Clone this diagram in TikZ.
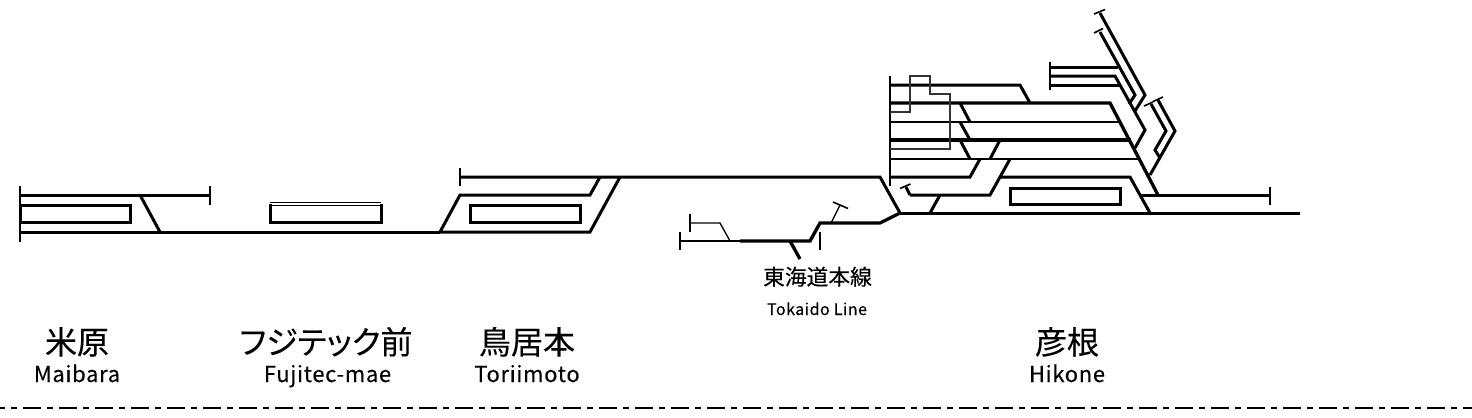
\documentclass[tikz,border=0pt]{standalone}
\usepackage{fontspec}
\setmainfont{Noto Sans CJK JP}[FakeBold=0.25]
\newfontfamily\jppal{Noto Sans CJK JP}[FakeBold=0.25,RawFeature={+palt}]
\newfontfamily\latn{Noto Sans CJK JP}[FakeBold=0.2,LetterSpace=3]
\tikzset{
  x=0.75pt,y=-0.75pt,
  trk/.style={line width=2.25pt,line join=miter,line cap=butt},
  trkh/.style={line width=2.5pt,line join=miter,line cap=butt},
  trkm/.style={line width=2pt,line join=miter,line cap=butt},
  thn/.style={line width=1pt,line join=miter,line cap=butt},
  tck/.style={line width=1.2pt,line cap=butt},
  ctl/.style={line width=1pt,draw=black!80},
  jp/.style={inner sep=0pt,anchor=base,font=\fontsize{24pt}{26pt}\selectfont},
  en/.style={inner sep=0pt,anchor=base,font=\latn\fontsize{16.5pt}{18pt}\selectfont},
  jps/.style={inner sep=0pt,anchor=base,font=\fontsize{16.3pt}{18pt}\selectfont},
  ens/.style={inner sep=0pt,anchor=base,font=\latn\fontsize{12pt}{13pt}\selectfont},
}
\begin{document}
\begin{tikzpicture}
\useasboundingbox (0,0) rectangle (1472,418);
% Maibara
\draw[tck] (20,186)--(20,242);
\draw[trk] (20,195)--(210,195);
\draw[tck] (210,186)--(210,205);
\draw[trk] (20,205) rectangle (130,222);
\draw[trk] (140,195)--(160,232);
\draw[trk] (20,232)--(440,232);
% Fujitec
\draw[thn] (270,202.5)--(381,202.5);
\draw[line width=1.3pt] (270,205.5)--(381,205.5);
\draw[trk] (270,204)--(270,222)--(381,222)--(381,204);
% Toriimoto
\draw[tck] (460,168)--(460,186);
\draw[trk] (460,177)--(880,177)--(900,213);
\draw[trk] (600,177)--(590,195)--(460,195)--(440,232);
\draw[trk] (620,177)--(590,232)--(440,232);
\draw[trk] (470,205) rectangle (580,222);
% Tokaido
\draw[tck] (680,232)--(680,250);
\draw[thn] (680,241)--(740,241);
\draw[tck] (690,214)--(690,232);
\draw[thn] (690,223)--(720,223)--(730,241);
\draw[tck] (820,232)--(820,250);
\draw[trkh] (740,241)--(810,241)--(820,223)--(880,223)--(900,213);
\draw[thn] (831,223)--(840,205);
\draw[tck] (833,202)--(848,208.5);
\draw[trkh] (790,241)--(800,259);
% Hikone yard
\draw[tck] (890,76)--(890,186);
\draw[trk] (889.5,85)--(1020,85)--(1030,103);
\draw[trkh] (889.5,103)--(1110,103)--(1158,195);
\draw[trkm] (889.5,122)--(1121,122);
\draw[trkh] (889.5,140)--(1131,140);
\draw[trkm] (889.5,159)--(1140,159);
\draw[trk] (889.5,177)--(970,177)--(980,159);
\draw[trk] (910,195)--(990,195)--(1010,159);
\draw[trk] (906,187)--(910,195);
\draw[tck] (900,188.5)--(910.5,184);
\draw[trk] (900,213)--(1300,213);
\draw[trk] (930,213)--(940,195);
\draw[trk] (1000,177)--(1130,177)--(1150,213);
\draw[trk] (1010,188) rectangle (1120,204);
\draw[trk] (1140,195)--(1270,195);
\draw[tck] (1270,186.5)--(1270,205);
\draw[trk] (960,103)--(970,122);
\draw[trk] (960,122)--(970,140);
\draw[trk] (960,140)--(970,159);
\draw[trk] (1000,140)--(990,159);
% control lines
\draw[ctl] (890,112)--(910,112)--(910,76)--(930,76)--(930,94)--(950,94)--(950,149)--(890,149);
% upper right
\draw[tck] (1050,62)--(1050,90);
\draw[trk] (1050,67)--(1118,67);
\draw[trk] (1050,76)--(1115,76)--(1145,130)--(1135,148);
\draw[trk] (1050,85)--(1120,85);
\draw[trk] (1100,13)--(1145,95)--(1135,111);
\draw[trk] (1100,32)--(1135,95)--(1129,104);
\draw[tck] (1094,14)--(1105,9.5);
\draw[tck] (1094,33)--(1103,28.5);
\draw[trk] (1158,100)--(1175,131)--(1150,175);
\draw[trk] (1151,104)--(1166,131)--(1155,150)--(1160,158);
\draw[tck] (1144,106)--(1153,102);
\draw[tck] (1153,101.5)--(1163,97);
% labels
\node[jp] (n1) at (77,354) {米原};
\node[en] (e1) at (77,382) {Maibara};
\node[jp,font=\jppal\fontsize{24pt}{26pt}\selectfont] (n2) at (326,354) {フジテック前};
\node[en] (e2) at (327.5,382) {Fujitec-mae};
\node[jp] (n3) at (527,354) {鳥居本};
\node[en] (e3) at (527,382) {Toriimoto};
\node[jp] (n4) at (1067,354) {彦根};
\node[en] (e4) at (1067,382) {Hikone};
\node[jps] (n5) at (817.5,285) {東海道本線};
\node[ens] (e5) at (817,315) {Tokaido Line};
% border
\draw[line width=1.5pt,dash pattern=on 13.5pt off 4.5pt on 4.5pt off 4.5pt,dash phase=9.75pt] (0,408)--(1472,408);
\end{tikzpicture}
\end{document}
